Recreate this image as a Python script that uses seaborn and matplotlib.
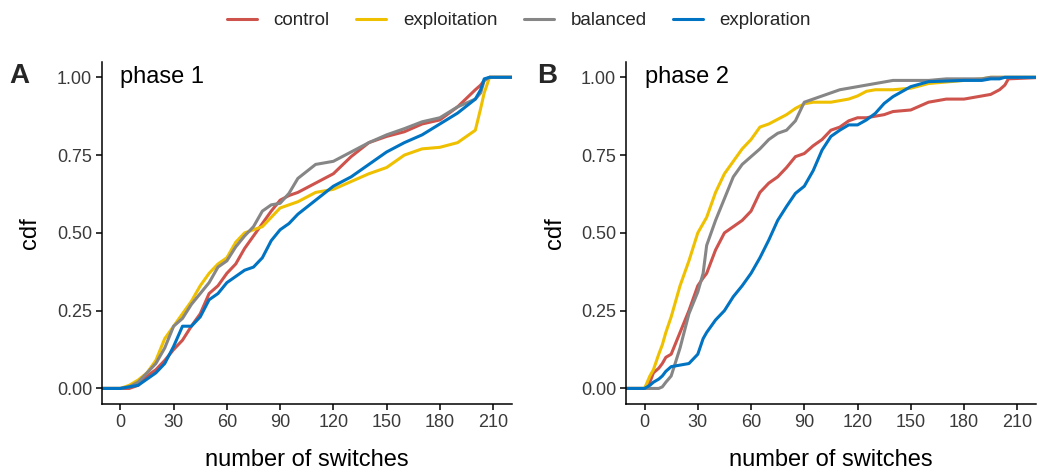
import matplotlib
matplotlib.use("Agg")
import matplotlib.pyplot as plt
import numpy as np
import pandas as pd
import seaborn as sns

# condition names and colours (JCO-like palette)
conditions = ["control", "exploitation", "balanced", "exploration"]
colors = ["#CD534C", "#EFC000", "#868686", "#0073C2"]

# phase 1: number of switches grid and cdf
switches_p1 = [-15, 0, 5, 10, 15, 20, 25, 30, 35, 40, 45, 50, 55, 60, 65, 70, 75, 80, 85, 90,
               95, 100, 110, 120, 130, 140, 150, 160, 170, 180, 190, 200, 203, 205, 208, 225]
control_p1 = [0, 0, 0, 0.01, 0.04, 0.06, 0.09, 0.125, 0.155, 0.2, 0.24, 0.305, 0.33, 0.37, 0.40, 0.45,
              0.49, 0.53, 0.57, 0.605, 0.62, 0.63, 0.66, 0.69, 0.745, 0.79, 0.81, 0.825, 0.85, 0.863,
              0.905, 0.96, 0.975, 0.99, 1, 1]
exploitation_p1 = [0, 0, 0.01, 0.027, 0.05, 0.09, 0.16, 0.2, 0.24, 0.28, 0.33, 0.37, 0.40, 0.42, 0.47,
                   0.50, 0.51, 0.52, 0.55, 0.58, 0.59, 0.60, 0.63, 0.64, 0.665, 0.69, 0.71, 0.75, 0.77,
                   0.775, 0.79, 0.83, 0.90, 0.95, 1, 1]
balanced_p1 = [0, 0, 0.005, 0.02, 0.05, 0.08, 0.13, 0.2, 0.225, 0.27, 0.305, 0.34, 0.39, 0.41, 0.455,
               0.49, 0.52, 0.57, 0.59, 0.595, 0.627, 0.675, 0.72, 0.73, 0.76, 0.79, 0.815, 0.835, 0.857,
               0.87, 0.905, 0.93, 0.95, 0.99, 1, 1]
exploration_p1 = [0, 0, 0.005, 0.01, 0.03, 0.05, 0.08, 0.135, 0.2, 0.2, 0.23, 0.285, 0.305, 0.34, 0.36,
                  0.38, 0.39, 0.42, 0.475, 0.51, 0.53, 0.56, 0.605, 0.65, 0.68, 0.72, 0.76, 0.79, 0.815,
                  0.85, 0.885, 0.93, 0.96, 0.995, 1, 1]

# phase 2
switches_p2 = [-15, 0, 3, 5, 8, 10, 12, 15, 20, 25, 30, 33, 35, 40, 45, 50, 55, 60, 65, 70, 75, 80,
               85, 90, 95, 100, 105, 110, 115, 120, 125, 130, 135, 140, 150, 160, 170, 180, 190, 195,
               200, 203, 205, 225]
control_p2 = [0, 0, 0.02, 0.05, 0.065, 0.08, 0.1, 0.11, 0.18, 0.25, 0.33, 0.355, 0.37, 0.445, 0.5,
              0.52, 0.54, 0.57, 0.63, 0.66, 0.68, 0.71, 0.745, 0.755, 0.78, 0.80, 0.83, 0.84, 0.86,
              0.87, 0.87, 0.875, 0.88, 0.89, 0.895, 0.92, 0.93, 0.93, 0.94, 0.945, 0.96, 0.975, 0.995, 1]
exploitation_p2 = [0, 0, 0.04, 0.06, 0.11, 0.14, 0.18, 0.23, 0.33, 0.41, 0.5, 0.53, 0.55, 0.63, 0.69,
                   0.73, 0.77, 0.80, 0.84, 0.85, 0.865, 0.88, 0.90, 0.915, 0.92, 0.92, 0.92, 0.925,
                   0.93, 0.94, 0.955, 0.96, 0.96, 0.96, 0.965, 0.98, 0.985, 0.99, 0.995, 1, 1, 1, 1, 1]
balanced_p2 = [0, 0, 0, 0, 0, 0.005, 0.02, 0.04, 0.13, 0.24, 0.31, 0.37, 0.46, 0.54, 0.61, 0.68, 0.72,
               0.745, 0.77, 0.80, 0.82, 0.83, 0.86, 0.92, 0.93, 0.94, 0.95, 0.96, 0.965, 0.97, 0.975,
               0.98, 0.985, 0.99, 0.99, 0.99, 0.995, 0.995, 0.995, 1, 1, 1, 1, 1]
exploration_p2 = [0, 0, 0.01, 0.02, 0.03, 0.04, 0.055, 0.07, 0.075, 0.08, 0.11, 0.16, 0.18, 0.22, 0.25,
                  0.295, 0.33, 0.37, 0.42, 0.477, 0.54, 0.585, 0.627, 0.65, 0.70, 0.766, 0.81, 0.83,
                  0.847, 0.847, 0.863, 0.884, 0.916, 0.938, 0.97, 0.986, 0.988, 0.99, 0.99, 0.995,
                  0.995, 1, 1, 1]

x_ticks = [0, 30, 60, 90, 120, 150, 180, 210]
y_ticks = [0, 0.25, 0.5, 0.75, 1.0]


def long_frame(switches, series):
    rows = []
    for name, values in zip(conditions, series):
        assert len(values) == len(switches), name
        rows.append(pd.DataFrame({"switches": switches, "cdf": values, "condition": name}))
    return pd.concat(rows, ignore_index=True)


df1 = long_frame(switches_p1, [control_p1, exploitation_p1, balanced_p1, exploration_p1])
df2 = long_frame(switches_p2, [control_p2, exploitation_p2, balanced_p2, exploration_p2])

sns.set_theme(style="ticks")
plt.rcParams["font.family"] = ["Liberation Sans", "DejaVu Sans"]

fig = plt.figure(figsize=(10.38, 4.75), dpi=100)
ax1 = fig.add_axes([0.098, 0.1495, 0.395, 0.7205])
ax2 = fig.add_axes([0.603, 0.1495, 0.395, 0.7205])

palette = dict(zip(conditions, colors))
for ax, df, phase, letter, lx in [(ax1, df1, "phase 1", "A", 0.009), (ax2, df2, "phase 2", "B", 0.517)]:
    sns.lineplot(data=df, x="switches", y="cdf", hue="condition", hue_order=conditions,
                 palette=palette, estimator=None, linewidth=2.2, legend=False, ax=ax)
    ax.set_xlim(-10.5, 220.5)
    ax.set_ylim(-0.05, 1.05)
    ax.set_xticks(x_ticks)
    ax.set_yticks(y_ticks)
    ax.set_yticklabels([f"{v:.2f}" for v in y_ticks])
    ax.tick_params(axis="both", length=4, width=1.1, color="black", labelsize=13,
                   labelcolor="#3A3A3A", pad=3)
    ax.set_xlabel("number of switches", fontsize=17, color="black", labelpad=13)
    ax.set_ylabel("cdf", fontsize=17, color="black", labelpad=11)
    for side in ["left", "bottom"]:
        ax.spines[side].set_color("black")
        ax.spines[side].set_linewidth(1.1)
    sns.despine(ax=ax)
    ax.text(0, 1.0, phase, fontsize=17, ha="left", va="center", color="black")
    fig.text(lx, 0.839, letter, fontsize=20, fontweight="bold", ha="left", va="center")

handles = [plt.Line2D([], [], color=c, linewidth=2.2) for c in colors]
fig.legend(handles, conditions, loc="upper center", bbox_to_anchor=(0.5, 1.01), ncol=4,
           frameon=False, fontsize=13.5, handlelength=1.6, handletextpad=0.9, columnspacing=1.4)

fig.savefig("out.png", dpi=100)
plt.close(fig)
